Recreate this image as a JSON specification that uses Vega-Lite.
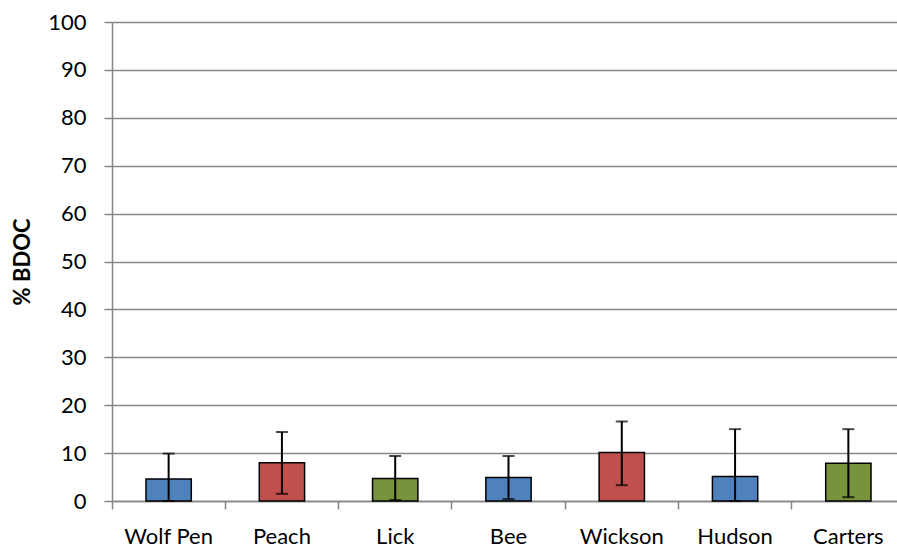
{
  "$schema": "https://vega.github.io/schema/vega-lite/v6.json",
  "autosize": "none",
  "width": 793,
  "height": 479,
  "padding": {"left": 112, "top": 22, "right": 0, "bottom": 49},
  "background": "white",
  "config": {"view": {"stroke": null}, "font": "Lato"},
  "data": {"values": [
    {"site": "Wolf Pen", "group": "a", "mean": 4.6, "lo": 0, "hi": 9.9},
    {"site": "Peach", "group": "b", "mean": 8.0, "lo": 1.5, "hi": 14.4},
    {"site": "Lick", "group": "c", "mean": 4.7, "lo": 0.2, "hi": 9.4},
    {"site": "Bee", "group": "a", "mean": 4.9, "lo": 0.4, "hi": 9.4},
    {"site": "Wickson", "group": "b", "mean": 10.1, "lo": 3.3, "hi": 16.6},
    {"site": "Hudson", "group": "a", "mean": 5.1, "lo": 0, "hi": 15.0},
    {"site": "Carters", "group": "c", "mean": 7.9, "lo": 0.8, "hi": 15.0}
  ]},
  "encoding": {
    "x": {"field": "site", "type": "nominal", "sort": null,
      "scale": {"paddingInner": 0, "paddingOuter": 0},
      "axis": {"title": null, "labelAngle": 0, "bandPosition": 0, "labelOffset": 0,
        "labelFontSize": 22, "labelColor": "black", "labelPadding": 17,
        "tickColor": "#868686", "tickSize": 8, "tickWidth": 1.5,
        "domainColor": "#868686", "domainWidth": 1.5, "grid": false}}
  },
  "layer": [
    {"mark": {"type": "bar", "stroke": "black", "strokeWidth": 1.5, "width": {"band": 0.4}},
     "encoding": {
       "y": {"field": "mean", "type": "quantitative",
         "scale": {"domain": [0, 100], "nice": false},
         "axis": {"title": "% BDOC", "titleFontSize": 22, "titleFontWeight": "bold", "titleColor": "black", "titlePadding": 13,
           "values": [0,10,20,30,40,50,60,70,80,90,100],
           "labelFontSize": 22, "labelColor": "black", "labelPadding": 18,
           "tickColor": "#868686", "tickSize": 8, "tickWidth": 1.5,
           "domainColor": "#868686", "domainWidth": 1.5,
           "gridColor": "#868686", "gridWidth": 1.5}},
       "color": {"field": "group", "type": "nominal", "legend": null,
         "scale": {"domain": ["a", "b", "c"], "range": ["#4F81BD", "#C0504D", "#77933C"]}}
     }},
    {"mark": {"type": "rule", "color": "black", "strokeWidth": 2},
     "encoding": {"y": {"field": "lo", "type": "quantitative"}, "y2": {"field": "hi"}}},
    {"mark": {"type": "tick", "color": "black", "size": 12, "thickness": 2},
     "encoding": {"y": {"field": "hi", "type": "quantitative"}}},
    {"mark": {"type": "tick", "color": "black", "size": 12, "thickness": 2},
     "encoding": {"y": {"field": "lo", "type": "quantitative"}}}
  ]
}
